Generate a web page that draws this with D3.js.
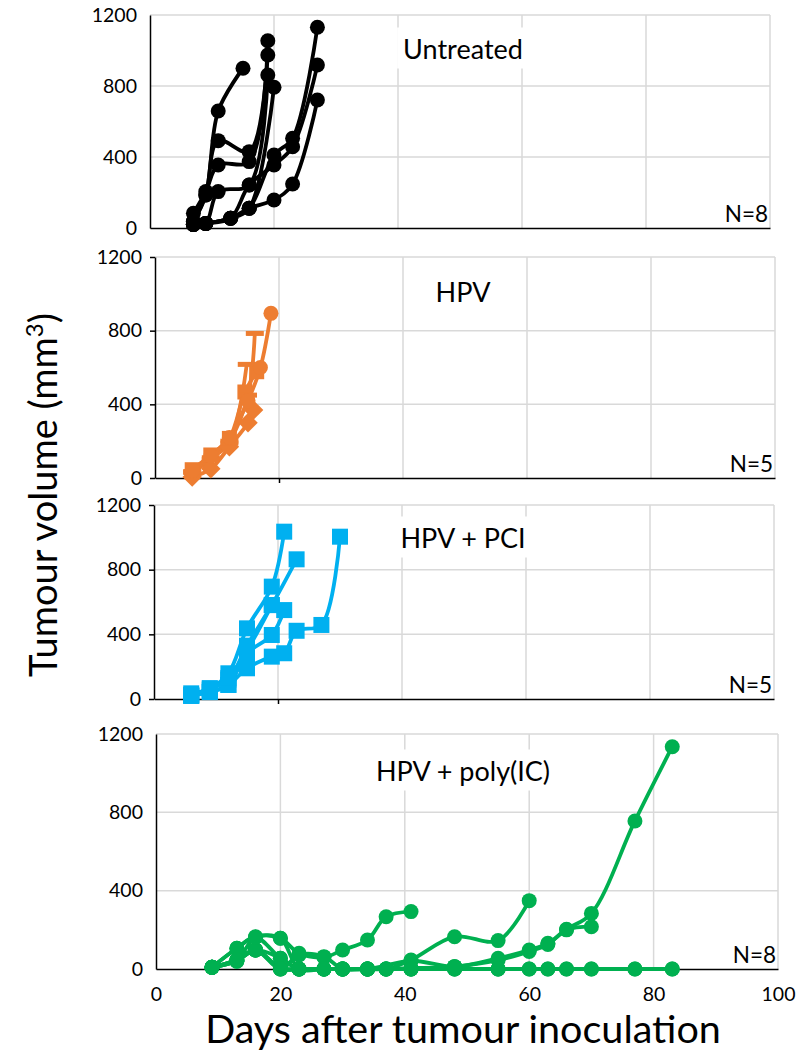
<!DOCTYPE html>
<html>
<head>
<meta charset="utf-8">
<script src="https://cdn.jsdelivr.net/npm/d3@7"></script>
<style>
  html, body { margin: 0; padding: 0; background: #fff; }
  svg { display: block; font-family: Lato, "Open Sans", sans-serif; }
</style>
</head>
<body>
<svg id="chart" width="796" height="1052"></svg>
<script>
// ---------------- DATA ----------------
const xTicks = [0, 20, 40, 60, 80, 100];
const yTicks = [0, 400, 800, 1200];
const panelLabels = ["Untreated", "HPV", "HPV + PCI", "HPV + poly(IC)"];
const nLabels = ["N=8", "N=5", "N=5", "N=8"];
const seriesColors = ["#000000", "#ED7D31", "#00B0F0", "#00B050"];
const xTitle = "Days after tumour inoculation";
const yTitle = "Tumour volume (mm";

// Untreated (8 mice)
const untreatedDays = [
  [7, 9, 11, 15],
  [7, 9, 11, 16, 19],
  [7, 9, 11, 16, 19],
  [7, 9, 11, 16, 19],
  [7, 9, 13, 16, 20],
  [7, 9, 13, 16, 20, 23, 27],
  [7, 9, 13, 16, 20, 23, 27],
  [7, 9, 13, 16, 20, 23, 27]
];
const untreatedVols = [
  [36, 186, 659, 900],
  [36, 186, 492, 430, 975],
  [83, 205, 355, 374, 1055],
  [20, 26, 205, 242, 862],
  [20, 26, 55, 111, 793],
  [20, 26, 55, 111, 411, 505, 1131],
  [20, 26, 55, 242, 355, 458, 918],
  [20, 26, 55, 111, 158, 248, 721]
];

// HPV (5 mice)
const hpvDays = [
  [6, 9, 12, 14.5, 16.4],
  [6, 9, 12, 15, 15.9],
  [6, 9, 12, 15, 16.1],
  [6, 9, 12, 14.8],
  [6, 9, 12, 15, 17, 18.7]
];
const hpvVols = [
  [45, 125, 215, 467, 577],
  [5, 50, 170, 300, 369],
  [30, 100, 200, 450, 785],
  [35, 110, 190, 617],
  [40, 120, 220, 420, 600, 894]
];
const hpvMarkers = ["square", "diamond", "dash", "dash", "circle"];

// HPV + PCI (5 mice)
const pciDays = [
  [6, 9, 12, 15, 19, 21],
  [6, 9, 12, 15, 19, 23],
  [6, 9, 12, 15, 19, 21],
  [6, 9, 12, 15, 19, 21, 23, 27, 30],
  [6, 9, 12, 15, 19]
];
const pciVols = [
  [35, 66, 159, 437, 695, 1035],
  [20, 66, 120, 330, 581, 864],
  [20, 43, 87, 282, 396, 550],
  [20, 43, 87, 190, 262, 283, 422, 458, 1004],
  [25, 55, 130, 300, 581]
];

// HPV + poly(IC) (8 mice)
const polyDays = [
  [9, 13, 16, 20, 23, 27, 30, 34, 41, 48, 55, 60, 63, 66, 70, 77, 83],
  [9, 13, 16, 20, 23, 27, 30, 34, 41, 48, 55, 60, 63, 66, 70],
  [9, 13, 16, 20, 23, 27, 30, 34, 37, 41],
  [9, 13, 16, 20, 23, 27, 30, 34, 37, 41, 48, 55, 60],
  [9, 13, 16, 20, 23, 27, 30, 34, 37, 41, 48, 55, 60, 63, 66, 70, 77, 83],
  [9, 13, 16, 20, 23, 27, 30, 34, 37, 41, 48, 55, 60, 63, 66, 70, 77, 83],
  [9, 13, 16, 20, 23, 27, 30, 34, 37, 41, 48, 55],
  [9, 13, 16, 20, 23, 27, 30, 34, 37, 41, 48]
];
const polyVols = [
  [9, 46, 97, 0, 0, 0, 0, 0, 42, 12, 55, 97, 131, 203, 284, 756, 1135],
  [9, 46, 97, 5, 0, 0, 0, 0, 5, 12, 45, 90, 125, 200, 216],
  [9, 106, 165, 157, 80, 60, 97, 148, 267, 293],
  [9, 46, 97, 55, 0, 0, 0, 0, 0, 46, 165, 145, 349],
  [9, 106, 162, 55, 0, 0, 0, 0, 0, 0, 0, 0, 0, 0, 0, 0, 0, 0],
  [9, 40, 97, 0, 0, 0, 0, 0, 0, 0, 0, 0, 0, 0, 0, 0, 0, 0],
  [9, 40, 97, 0, 72, 63, 0, 0, 0, 0, 0, 0],
  [9, 46, 162, 157, 0, 0, 0, 0, 0, 0, 12]
];

// ---------------- LAYOUT ----------------
const panels = [
  { x0: 150, x1: 770, yb: 228, yt: 15,  ticks: false, xLabels: false, labelY: 48,  days: untreatedDays, vols: untreatedVols, markers: null, size: 7.5 },
  { x0: 155, x1: 775, yb: 478, yt: 257, ticks: true,  xLabels: false, labelY: 291, days: hpvDays, vols: hpvVols, markers: hpvMarkers, size: 7.5 },
  { x0: 154, x1: 774, yb: 699, yt: 505, ticks: true,  xLabels: false, labelY: 537, days: pciDays, vols: pciVols, markers: "square", size: 8 },
  { x0: 156, x1: 778, yb: 969, yt: 734, ticks: false, xLabels: true,  labelY: 770, days: polyDays, vols: polyVols, markers: null, size: 7.5 }
];

const svg = d3.select("#chart");

panels.forEach((p, pi) => {
  const x = d3.scaleLinear().domain([0, 100]).range([p.x0, p.x1]);
  const y = d3.scaleLinear().domain([0, 1200]).range([p.yb, p.yt]);
  const color = seriesColors[pi];
  const g = svg.append("g");

  // gridlines
  g.append("g").selectAll("line").data(xTicks.filter(t => t > 0)).join("line")
    .attr("x1", d => x(d)).attr("x2", d => x(d))
    .attr("y1", y(0)).attr("y2", y(1200))
    .attr("stroke", "#D9D9D9").attr("stroke-width", 1.5);
  g.append("g").selectAll("line").data(yTicks.filter(t => t > 0)).join("line")
    .attr("x1", x(0)).attr("x2", x(100))
    .attr("y1", d => y(d)).attr("y2", d => y(d))
    .attr("stroke", "#D9D9D9").attr("stroke-width", 1.5);

  // panel label with white background
  const rect = g.append("rect").attr("fill", "#fff");
  const lbl = g.append("text")
    .attr("x", 463).attr("y", p.labelY)
    .attr("text-anchor", "middle").attr("dominant-baseline", "central")
    .attr("font-size", 27).attr("fill", "#000")
    .text(panelLabels[pi]);
  const bb = lbl.node().getBBox();
  rect.attr("x", bb.x - 6).attr("y", bb.y - 4)
    .attr("width", bb.width + 12).attr("height", bb.height + 8);

  // axes
  const yAxis = d3.axisLeft(y).tickValues(yTicks).tickFormat(d3.format("d"))
    .tickSizeInner(p.ticks ? 5 : 0).tickSizeOuter(0).tickPadding(p.ticks ? 8 : 13);
  const ya = g.append("g").attr("transform", `translate(${x(0)},0)`).call(yAxis);
  ya.select(".domain").attr("stroke", "#000").attr("stroke-width", 1.5);
  ya.selectAll(".tick line").attr("stroke", "#000").attr("stroke-width", 1.5);
  ya.selectAll(".tick text").attr("font-size", 19.5).attr("fill", "#000")
    .attr("font-family", "Lato, sans-serif");

  const xAxis = d3.axisBottom(x).tickValues(xTicks).tickSizeOuter(0)
    .tickSizeInner(p.ticks ? 5 : 0).tickPadding(18)
    .tickFormat(p.xLabels ? d3.format("d") : () => "");
  const xa = g.append("g").attr("transform", `translate(0,${y(0)})`).call(xAxis);
  xa.select(".domain").attr("stroke", "#000").attr("stroke-width", 1.5);
  xa.selectAll(".tick line").attr("stroke", "#000").attr("stroke-width", 1.5)
    .attr("display", d => (p.ticks && d === 20) ? null : "none");
  xa.selectAll(".tick text").attr("font-size", 19.5).attr("fill", "#000")
    .attr("font-family", "Lato, sans-serif");

  // series
  const line = d3.line().x(d => x(d[0])).y(d => y(d[1])).curve(d3.curveCatmullRom.alpha(0.5));
  const series = p.days.map((ds, i) => ds.map((d, j) => [d, p.vols[i][j]]));
  const sg = g.append("g");
  series.forEach((s) => {
    sg.append("path").datum(s).attr("d", line)
      .attr("fill", "none").attr("stroke", color).attr("stroke-width", 3.8)
      .attr("stroke-linejoin", "round");
  });
  series.forEach((s, i) => {
    const m = p.markers ? (Array.isArray(p.markers) ? p.markers[i] : p.markers) : "circle";
    const r = p.size;
    const pts = sg.append("g").selectAll("g").data(s).join("g")
      .attr("transform", d => `translate(${x(d[0])},${y(d[1])})`);
    if (m === "circle") {
      pts.append("circle").attr("r", r).attr("fill", color);
    } else if (m === "square") {
      pts.append("rect").attr("x", -r).attr("y", -r).attr("width", 2 * r).attr("height", 2 * r).attr("fill", color);
    } else if (m === "diamond") {
      pts.append("path").attr("d", `M0,${-r * 1.3}L${r * 1.3},0L0,${r * 1.3}L${-r * 1.3},0Z`).attr("fill", color);
    } else if (m === "dash") {
      pts.append("rect").attr("x", -r * 1.2).attr("y", -2.5).attr("width", r * 2.4).attr("height", 5).attr("fill", color);
    }
  });

  // N label
  g.append("text")
    .attr("x", p.x1 - 2).attr("y", y(0) - 6)
    .attr("text-anchor", "end")
    .attr("font-size", 22.5).attr("fill", "#000")
    .text(nLabels[pi]);
});

// axis titles
svg.append("text")
  .attr("x", 463).attr("y", 1043)
  .attr("text-anchor", "middle")
  .attr("font-size", 39.5).attr("fill", "#000")
  .text(xTitle);

const yt = svg.append("text")
  .attr("transform", "translate(57,495) rotate(-90)")
  .attr("text-anchor", "middle")
  .attr("font-size", 38).attr("fill", "#000");
yt.append("tspan").text(yTitle);
yt.append("tspan").attr("font-size", 24).attr("dy", -14).text("3");
yt.append("tspan").attr("dy", 14).text(")");
</script>
</body>
</html>
